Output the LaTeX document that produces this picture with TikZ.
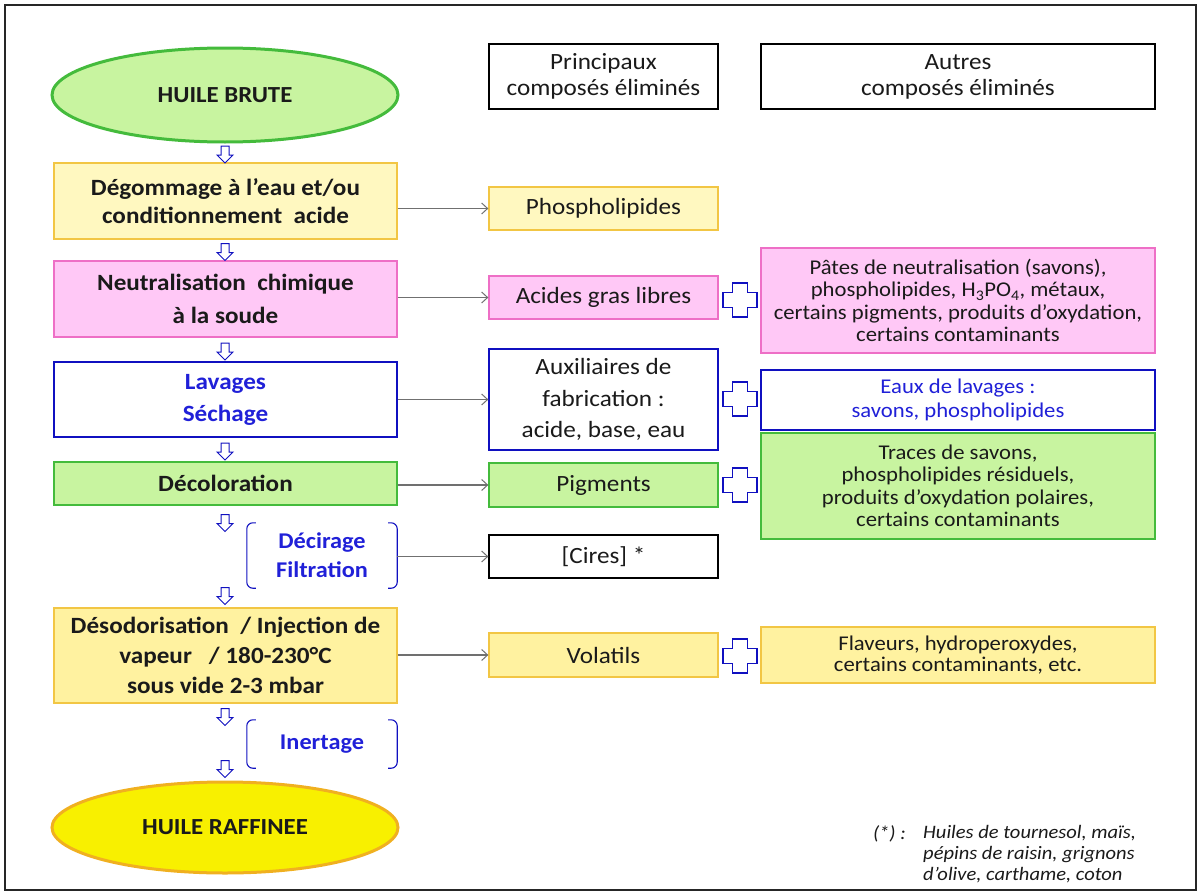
\documentclass[tikz,border=0pt]{standalone}
\usepackage{fontspec}
\setmainfont{Carlito}[FakeStretch=1.08]
\usetikzlibrary{shapes.geometric,shapes.arrows,arrows.meta,calc}
\definecolor{txt}{HTML}{1A1A1A}
\definecolor{bluetxt}{HTML}{2020D8}
\definecolor{blueline}{HTML}{1010C0}
\definecolor{yelfill}{HTML}{FFF8C0}
\definecolor{yelline}{HTML}{F2C644}
\definecolor{yel2fill}{HTML}{FFF2A0}
\definecolor{pinkfill}{HTML}{FFC8F6}
\definecolor{pinkline}{HTML}{EE6FC6}
\definecolor{grnfill}{HTML}{C8F4A0}
\definecolor{grnline}{HTML}{44BB3C}
\definecolor{rafffill}{HTML}{F8F000}
\definecolor{raffline}{HTML}{F0B020}
\definecolor{arrgray}{HTML}{707070}
\begin{document}
\begin{tikzpicture}[x=1pt,y=-1pt,
  every node/.style={text=txt},
  box/.style={rectangle, draw, line width=1.3pt, align=center, inner sep=0pt},
  mainbox/.style={box, minimum width=343pt, font=\fontsize{23.3}{30}\selectfont\bfseries},
  midbox/.style={box, minimum width=229pt, font=\fontsize{23.3}{30}\selectfont},
  rightbox/.style={box, minimum width=394pt, font=\fontsize{21}{22.5}\selectfont},
  yelbox/.style={fill=yelfill, draw=yelline},
  yel2box/.style={fill=yel2fill, draw=yelline},
  pinkbox/.style={fill=pinkfill, draw=pinkline},
  grnbox/.style={fill=grnfill, draw=grnline},
  bluebox/.style={fill=white, draw=blueline},
  blkbox/.style={fill=white, draw=black},
  downarr/.style={single arrow, draw=blueline, fill=white, line width=1pt,
    minimum height=17pt, single arrow head extend=4pt, inner sep=3.5pt,
    single arrow head indent=0pt, shape border rotate=270},
  harrow/.style={draw=arrgray, line width=1.3pt, -{Straight Barb[length=6pt,width=11pt,line width=1pt]}},
  brk/.style={draw=blueline, line width=1.1pt, rounded corners=6pt},
  bluelbl/.style={text=bluetxt, font=\fontsize{22.5}{29}\selectfont\bfseries, align=center},
  plussign/.pic={\draw[blueline, line width=1.4pt, fill=white]
    (-7.5,-17) -- (7.5,-17) -- (7.5,-7.5) -- (17,-7.5) -- (17,7.5) -- (7.5,7.5)
    -- (7.5,17) -- (-7.5,17) -- (-7.5,7.5) -- (-17,7.5) -- (-17,-7.5) -- (-7.5,-7.5) -- cycle;}
]
\useasboundingbox (0,0) rectangle (1200,894);
% frame
\draw[line width=1.3pt, draw=black!85] (5,5) rectangle (1196,890);

% ellipses
\node[ellipse, draw=grnline, fill=grnfill, line width=3pt, minimum width=346pt, minimum height=94pt,
  inner sep=0pt, font=\fontsize{23}{25}\selectfont\bfseries] (brute) at (225,95) {HUILE BRUTE};
\node[ellipse, draw=raffline, fill=rafffill, line width=3pt, minimum width=346pt, minimum height=91pt,
  inner sep=0pt, font=\fontsize{23}{25}\selectfont\bfseries] (raff) at (225,827.5) {HUILE RAFFINEE};

% main column
\node[mainbox, yelbox, minimum height=76pt, font=\fontsize{23.3}{28.5}\selectfont\bfseries] (degom) at (225.5,201) {Dégommage à l’eau et/ou\\conditionnement\ \ acide};
\node[mainbox, pinkbox, minimum height=76pt, font=\fontsize{23.3}{32.5}\selectfont\bfseries] (neutr) at (225.5,299) {Neutralisation\ \ chimique\\à la soude};
\node[mainbox, bluebox, minimum height=75pt, text=bluetxt, font=\fontsize{23.3}{32}\selectfont\bfseries] (lav) at (225.5,399.5) {Lavages\\Séchage};
\node[mainbox, grnbox, minimum height=43pt] (decol) at (225.5,483.5) {Décoloration};
\node[mainbox, yel2box, minimum height=95pt] (desod) at (225.5,655.5) {Désodorisation\ \ /\ Injection de\\vapeur\ \ \ / 180-230°C\\sous vide 2-3 mbar};

% brackets
\node[minimum width=150pt, minimum height=65pt, inner sep=0pt, bluelbl] (decir) at (322,555.5) {Décirage\\Filtration};
\draw[brk] ([xshift=9pt]decir.north west) -- (decir.north west) -- (decir.south west) -- ([xshift=9pt]decir.south west);
\draw[brk] ([xshift=-9pt]decir.north east) -- (decir.north east) -- (decir.south east) -- ([xshift=-9pt]decir.south east);
\node[minimum width=150pt, minimum height=48pt, inner sep=0pt, bluelbl] (inert) at (322,744) {Inertage};
\draw[brk] ([xshift=9pt]inert.north west) -- (inert.north west) -- (inert.south west) -- ([xshift=9pt]inert.south west);
\draw[brk] ([xshift=-9pt]inert.north east) -- (inert.north east) -- (inert.south east) -- ([xshift=-9pt]inert.south east);

% down arrows
\node[downarr] (d1) at (225,152.5) {};
\node[downarr] (d2) at (225,250) {};
\node[downarr] (d3) at (225,349.5) {};
\node[downarr] (d4) at (225,449.5) {};
\node[downarr] (d5) at (225,521) {};
\node[downarr] (d6) at (225,594) {};
\node[downarr] (d7) at (225,715) {};
\node[downarr] (d8) at (225,767) {};

% headers
\node[midbox, blkbox, minimum height=65pt, font=\fontsize{23.3}{26}\selectfont] (princ) at (603.5,76.5) {Principaux\\composés éliminés};
\node[rightbox, blkbox, minimum width=394pt, minimum height=65pt, font=\fontsize{23.3}{26}\selectfont] (autres) at (958,76.5) {Autres\\composés éliminés};

% middle column
\node[midbox, yelbox, minimum height=43pt] (phos) at (603.5,208.5) {Phospholipides};
\node[midbox, pinkbox, minimum height=43pt] (acides) at (603.5,297.5) {Acides gras libres};
\node[midbox, bluebox, minimum height=101pt, font=\fontsize{23.3}{31.5}\selectfont] (aux) at (603.5,399.5) {Auxiliaires de\\fabrication :\\acide, base, eau};
\node[midbox, grnbox, minimum height=44pt] (pigm) at (603.5,485) {Pigments};
\node[midbox, blkbox, minimum height=43pt] (cires) at (603.5,556.5) {[Cires] *};
\node[midbox, yel2box, minimum height=44pt] (volat) at (603.5,655) {Volatils};

% right column
\node[rightbox, pinkbox, minimum height=105pt, font=\fontsize{21}{22.3}\selectfont] (pates) at (958,300.5) {Pâtes de neutralisation (savons),\\phospholipides, H\textsubscript{3}PO\textsubscript{4}, métaux,\\certains pigments, produits d’oxydation,\\certains contaminants};
\node[rightbox, bluebox, minimum height=60pt, text=bluetxt, font=\fontsize{21}{23.3}\selectfont] (eaux) at (958,400) {Eaux de lavages :\\savons, phospholipides};
\node[rightbox, grnbox, minimum height=106pt] (traces) at (958,486) {Traces de savons,\\phospholipides résiduels,\\produits d’oxydation polaires,\\certains contaminants};
\node[rightbox, yel2box, minimum height=56pt, font=\fontsize{21}{21.5}\selectfont] (flav) at (958,655) {Flaveurs, hydroperoxydes,\\certains contaminants, etc.};

% plus signs
\pic at (740,300) {plussign};
\pic at (740,399) {plussign};
\pic at (740,485) {plussign};
\pic at (740,656) {plussign};

% horizontal arrows
\draw[harrow] (degom.east |- phos.west) -- (phos.west);
\draw[harrow] (neutr.east |- acides.west) -- (acides.west);
\draw[harrow] (lav.east |- aux.west) -- (aux.west);
\draw[harrow] (decol.east |- pigm.west) -- (pigm.west);
\draw[harrow] (decir.east |- cires.west) -- (cires.west);
\draw[harrow] (desod.east |- volat.west) -- (volat.west);

% footnote
\node[anchor=north east, inner sep=0pt, font=\fontsize{19}{21}\selectfont\itshape] (fnmark) at (906,825) {(*) :};
\node[anchor=north west, inner sep=0pt, align=left, font=\fontsize{19}{21}\selectfont\itshape] (fntext) at (923,825) {Huiles de tournesol, maïs,\\pépins de raisin, grignons\\d’olive, carthame, coton};
\end{tikzpicture}
\end{document}
